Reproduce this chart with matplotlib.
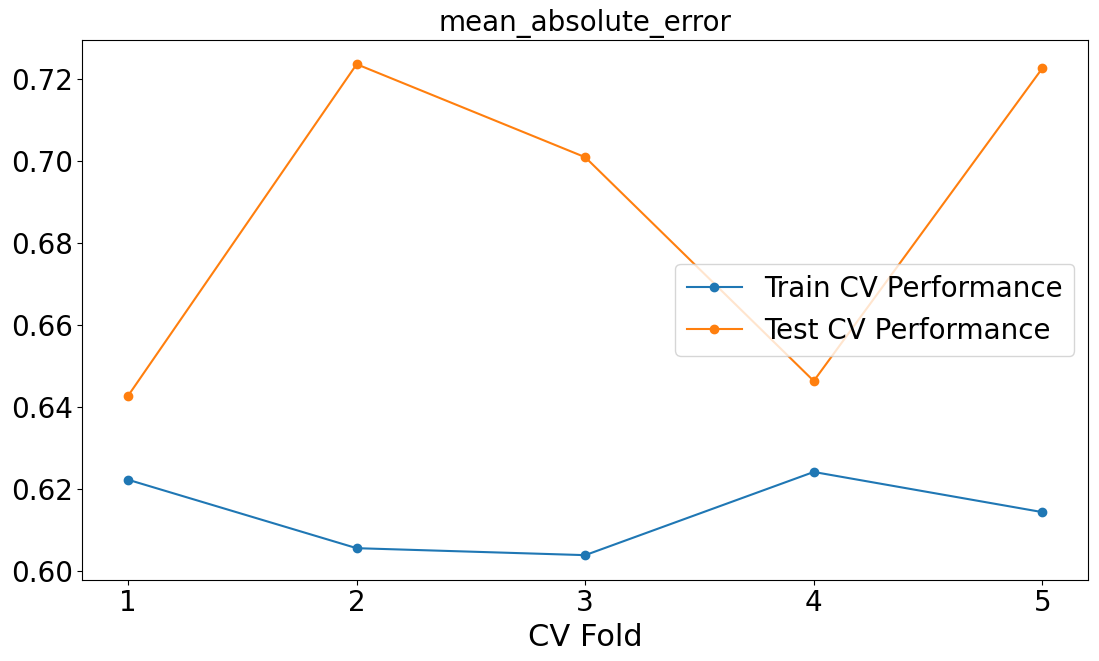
import matplotlib
matplotlib.use("Agg")
import matplotlib.pyplot as plt

folds = [1, 2, 3, 4, 5]
train = [0.6222, 0.6055, 0.6038, 0.6241, 0.6143]
test = [0.6427, 0.7236, 0.7009, 0.6463, 0.7226]

fig = plt.figure(figsize=(10.99, 6.61), dpi=100)
ax = fig.add_axes([0.075, 0.123, 0.915, 0.817])
ax.plot(folds, train, marker='o', label='Train CV Performance')
ax.plot(folds, test, marker='o', label='Test CV Performance')
ax.set_title('mean_absolute_error', fontsize=20)
ax.set_xlabel('CV Fold', fontsize=22)
ax.set_xticks(folds)
ax.tick_params(labelsize=20)
ax.legend(fontsize=20, loc='center right')
fig.savefig('out.png', dpi=100)
